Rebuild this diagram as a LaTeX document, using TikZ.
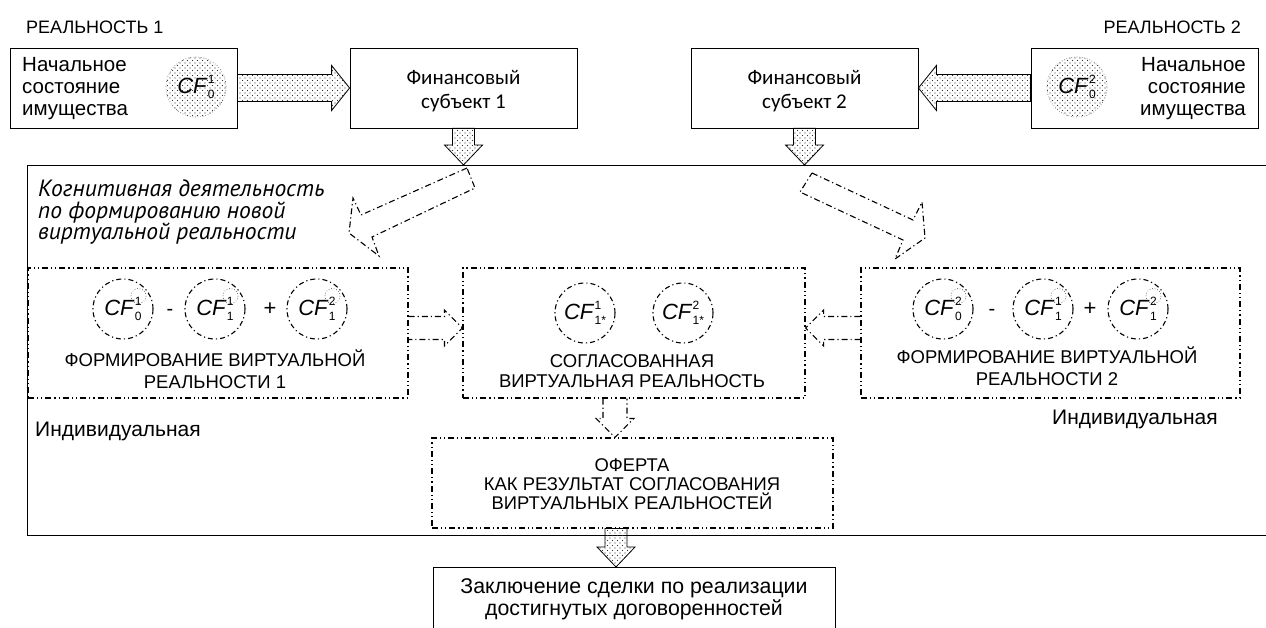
\documentclass[tikz,border=0pt]{standalone}
\usepackage{fontspec}
\setmainfont{Liberation Sans}
\newfontfamily\calfont{Carlito}
\newfontfamily\ptfont{PT Sans}
\usetikzlibrary{calc,patterns}
\pgfdeclarepatternformonly{sdots}{\pgfqpoint{-0.8pt}{-0.8pt}}{\pgfqpoint{3.3pt}{3.3pt}}{\pgfqpoint{5pt}{5pt}}{%
  \pgfpathcircle{\pgfqpoint{0pt}{0pt}}{0.65pt}%
  \pgfpathcircle{\pgfqpoint{2.5pt}{2.5pt}}{0.65pt}%
  \pgfusepath{fill}}
\newcommand\cfx[2]{\textit{CF}\kern0.3pt\rlap{\raisebox{9.5pt}{\fontsize{12}{12}\selectfont #1}}\raisebox{-5pt}{\fontsize{12}{12}\selectfont #2}}
\tikzset{
 sbox/.style={draw, line width=0.8pt, minimum width=227, minimum height=80, inner sep=0},
 vbox/.style={draw, line width=1.1pt, dash pattern=on 6pt off 3pt on 1.2pt off 3pt on 1.2pt off 3pt, inner sep=0},
 vcirc/.style={draw, circle, line width=1.1pt, dash pattern=on 5pt off 3pt on 1.2pt off 3pt, minimum size=60, inner sep=0, font=\fontsize{22}{24}\selectfont},
 dcirc/.style={circle, draw=black!70, dotted, line width=0.6pt, pattern=sdots, pattern color=black!80, minimum size=60, inner sep=0, font=\fontsize{22}{24}\selectfont},
 scirc/.style={dotted, line width=0.6pt, draw=black!80},
 barrow/.style={draw, line width=0.8pt, pattern=sdots, pattern color=black!80},
 darrow/.style={draw, line width=1.1pt, dash pattern=on 6pt off 3pt on 1.2pt off 3pt, line join=miter},
 lbl/.style={align=center, inner sep=0},
 frame/.style={line width=0.8pt},
}
\begin{document}
\begin{tikzpicture}[x=1pt,y=-1pt]
\useasboundingbox (0,0) rectangle (1266,628);
\clip (0,0) rectangle (1266,628);
% titles
\node[lbl, anchor=west, font=\fontsize{18}{20}\selectfont] (r1) at (26,27) {РЕАЛЬНОСТЬ 1};
\node[lbl, anchor=east, font=\fontsize{18}{20}\selectfont] (r2) at (1241,27) {РЕАЛЬНОСТЬ 2};
% top boxes
\node[sbox] (b1) at (123.5,88) {};
\node[sbox] (f1) at (463.5,88) {};
\node[sbox] (f2) at (804.5,88) {};
\node[sbox] (b2) at (1144.5,88) {};
\node[lbl, anchor=west, align=left, font=\fontsize{20.5}{22}\selectfont] (b1t) at (22,89) {Начальное\\состояние\\имущества};
\node[lbl, anchor=east, align=right, font=\fontsize{20.5}{22}\selectfont] (b2t) at (1246,89) {Начальное\\состояние\\имущества};
\node[dcirc] (c01) at (196,87) {\cfx{1}{0}};
\node[dcirc] (c02) at (1077,87) {\cfx{2}{0}};
\node[lbl, font=\calfont\fontsize{21}{24}\selectfont] (f1t) at (463.5,91) {Финансовый\\субъект 1};
\node[lbl, font=\calfont\fontsize{21}{24}\selectfont] (f2t) at (804.5,91) {Финансовый\\субъект 2};
% block arrows top
\draw[barrow] ($(b1.east)+(0,-13.5)$) -- ($(f1.west)+(-18,-13.5)$) -- ($(f1.west)+(-18,-22.5)$) -- (f1.west) -- ($(f1.west)+(-18,22.5)$) -- ($(f1.west)+(-18,13.5)$) -- ($(b1.east)+(0,13.5)$) -- cycle;
\draw[barrow] ($(b2.west)+(0,-13.5)$) -- ($(f2.east)+(18,-13.5)$) -- ($(f2.east)+(18,-22.5)$) -- (f2.east) -- ($(f2.east)+(18,22.5)$) -- ($(f2.east)+(18,13.5)$) -- ($(b2.west)+(0,13.5)$) -- cycle;
\coordinate (t1) at (463.5,165);
\coordinate (t2) at (804.5,165);
\draw[barrow] ($(f1.south)+(-11,0)$) -- ($(t1)+(-11,-20)$) -- ($(t1)+(-19,-20)$) -- (t1) -- ($(t1)+(19,-20)$) -- ($(t1)+(11,-20)$) -- ($(f1.south)+(11,0)$) -- cycle;
\draw[barrow] ($(f2.south)+(-11,0)$) -- ($(t2)+(-11,-20)$) -- ($(t2)+(-19,-20)$) -- (t2) -- ($(t2)+(19,-20)$) -- ($(t2)+(11,-20)$) -- ($(f2.south)+(11,0)$) -- cycle;
% frame
\draw[frame] (1266,165) -- (27,165) -- (27,535) -- (1266,535);
% cognitive text
\node[lbl, anchor=north west, align=left, font=\ptfont\itshape\fontsize{23.5}{21.5}\selectfont] (cog) at (38,180) {Когнитивная деятельность\\по формированию новой\\виртуальной реальности};
% diagonal dash-dot arrows
\draw[darrow] (467,168) -- (361,215) -- (353,198) -- (349,233) -- (379,256) -- (372,237) -- (475,188) -- cycle;
\draw[darrow] (812,173) -- (913,220) -- (922,202) -- (925,238) -- (895,259) -- (903,240) -- (800,192) -- cycle;
% virtual boxes
\node[vbox, minimum width=380, minimum height=130] (v1) at (218,333) {};
\node[vbox, minimum width=342, minimum height=130] (vc) at (634,333) {};
\node[vbox, minimum width=379, minimum height=130] (v2) at (1050.5,333) {};
% circles v1
\node[vcirc] (c11) at (123,309) {\cfx{1}{0}};
\node[vcirc] (c12) at (215,309) {\cfx{1}{1}};
\node[vcirc] (c13) at (317,309) {\cfx{2}{1}};
\node[lbl, font=\fontsize{20}{22}\selectfont] (m1) at (170,312) {-};
\node[lbl, font=\fontsize{22}{24}\selectfont] (p1) at (270,309) {+};
% circles vc
\node[vcirc] (c21) at (585,313) {\cfx{1}{1*}};
\node[vcirc] (c22) at (683,313) {\cfx{2}{1*}};
% circles v2
\node[vcirc] (c31) at (943,309) {\cfx{2}{0}};
\node[vcirc] (c32) at (1043,309) {\cfx{1}{1}};
\node[vcirc] (c33) at (1138,309) {\cfx{2}{1}};
\node[lbl, font=\fontsize{20}{22}\selectfont] (m2) at (992,312) {-};
\node[lbl, font=\fontsize{22}{24}\selectfont] (p2) at (1090,309) {+};
% small dotted circles round superscripts
\foreach \c in {c11,c12,c13,c31,c32,c33}{
  \draw[scirc] ($(\c)+(15.5,-13)$) circle (7.5);
}
% box texts
\node[lbl, font=\fontsize{18.5}{22}\selectfont] (v1t) at (215,369) {ФОРМИРОВАНИЕ ВИРТУАЛЬНОЙ\\РЕАЛЬНОСТИ 1};
\node[lbl, font=\fontsize{18.5}{20}\selectfont] (vct) at (632,371) {СОГЛАСОВАННАЯ\\ВИРТУАЛЬНАЯ РЕАЛЬНОСТЬ};
\node[lbl, font=\fontsize{18.5}{22}\selectfont] (v2t) at (1047,366) {ФОРМИРОВАНИЕ ВИРТУАЛЬНОЙ\\РЕАЛЬНОСТИ 2};
% horizontal dash-dot arrows
\coordinate (h1s) at ($(v1.east)+(0,-5)$);
\coordinate (h1t) at ($(vc.west)+(0,-5)$);
\draw[darrow] ($(h1s)+(0,-11.5)$) -- ($(h1t)+(-18,-11.5)$) -- ($(h1t)+(-18,-18)$) -- (h1t) -- ($(h1t)+(-18,18)$) -- ($(h1t)+(-18,11.5)$) -- ($(h1s)+(0,11.5)$);
\coordinate (h2s) at ($(v2.west)+(0,-5)$);
\coordinate (h2t) at ($(vc.east)+(0,-5)$);
\draw[darrow] ($(h2s)+(0,-11.5)$) -- ($(h2t)+(18,-11.5)$) -- ($(h2t)+(18,-18)$) -- (h2t) -- ($(h2t)+(18,18)$) -- ($(h2t)+(18,11.5)$) -- ($(h2s)+(0,11.5)$);
% individual labels
\node[lbl, anchor=west, font=\fontsize{21}{23}\selectfont] (ind1) at (35,431) {Индивидуальная};
\node[lbl, anchor=west, font=\fontsize{21}{23}\selectfont] (ind2) at (1052,419) {Индивидуальная};
% offer box
\node[vbox, minimum width=401, minimum height=90] (of) at (632.5,483) {};
\node[lbl, font=\fontsize{18.4}{19}\selectfont] (oft) at (632,484) {ОФЕРТА\\КАК РЕЗУЛЬТАТ СОГЛАСОВАНИЯ\\ВИРТУАЛЬНЫХ РЕАЛЬНОСТЕЙ};
% arrow vc -> of
\coordinate (d5s) at ($(vc.south)+(-19,0)$);
\coordinate (d5t) at ($(of.north)+(-17.5,0)$);
\draw[darrow] ($(d5s)+(-12,0)$) -- ($(d5t)+(-12,-19)$) -- ($(d5t)+(-19,-19)$) -- (d5t) -- ($(d5t)+(19,-19)$) -- ($(d5t)+(12,-19)$) -- ($(d5s)+(12,0)$);
% deal box
\node[sbox, minimum width=402, minimum height=80, anchor=north] (deal) at (634,567) {};
\node[lbl, font=\fontsize{21.3}{22}\selectfont] (dealt) at (634,599) {Заключение сделки по реализации\\достигнутых договоренностей};
% arrow of -> deal
\coordinate (s5) at ($(of.south)+(-16.5,0)$);
\coordinate (t5) at ($(deal.north)+(-18,0)$);
\draw[barrow] ($(s5)+(-11,0)$) -- ($(t5)+(-11,-20)$) -- ($(t5)+(-19,-20)$) -- (t5) -- ($(t5)+(19,-20)$) -- ($(t5)+(11,-20)$) -- ($(s5)+(11,0)$) -- cycle;
\end{tikzpicture}
\end{document}
